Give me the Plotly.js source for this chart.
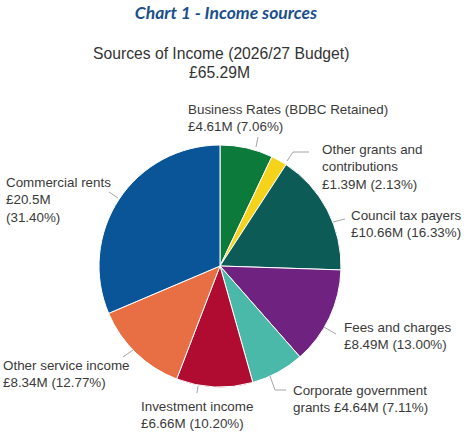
<!DOCTYPE html>
<html>
<head>
<meta charset="utf-8">
<script src="https://cdn.plot.ly/plotly-3.0.1.min.js"></script>
<style>html,body{margin:0;padding:0;background:#fff;}#chart{width:470px;height:436px;}</style>
</head>
<body>
<div id="chart"></div>
<script>
// ---- data ----
var categories = ['Business Rates (BDBC Retained)', 'Other grants and contributions', 'Council tax payers', 'Fees and charges', 'Corporate government grants', 'Investment income', 'Other service income', 'Commercial rents'];
var valuesM = [4.61, 1.39, 10.66, 8.49, 4.64, 6.66, 8.34, 20.5];
var valueText = ['4.61', '1.39', '10.66', '8.49', '4.64', '6.66', '8.34', '20.5'];
var percents = ['7.06', '2.13', '16.33', '13.00', '7.11', '10.20', '12.77', '31.40'];
var totalText = '£65.29M';
var chartTitle = 'Chart 1 - Income sources';
var subTitle = 'Sources of Income (2026/27 Budget)';

// ---- styles / layout helpers ----
var colors = ['#0b7a3b', '#f5d31a', '#0d5b57', '#6f2280', '#4bb9a9', '#b00b31', '#e86f44', '#0a5597'];
// label templates: {n}=name, {v}=value, {p}=percent
var templates = [
  '{n}<br>£{v}M ({p}%)',
  'Other grants and<br>contributions<br>£{v}M ({p}%)',
  '{n}<br>£{v}M ({p}%)',
  '{n}<br>£{v}M ({p}%)',
  'Corporate government<br>grants £{v}M ({p}%)',
  '{n}<br>£{v}M ({p}%)',
  '{n}<br>£{v}M ({p}%)',
  '{n}<br>£{v}M<br>({p}%)'
];
var labelPos = [[186,118],[320,167],[349,224],[342,336],[291,399],[139,415],[1,374],[4,200]];
var leaders = [
  [[256,147],[258,137]],
  [[287,161],[293,152],[309,152]],
  [[333,222],[345,219]],
  [[324,327],[336,334]],
  [[270,376],[275,390],[286,390]],
  [[198,386],[197,393]],
  [[133,350],[123,357]],
  [[118,198],[109,192]]
];
var W = 470, H = 436;
function px(x){return x/W;}
function py(y){return 1 - y/H;}

var annotations = [];
for (var i = 0; i < categories.length; i++) {
  var t = templates[i].replace('{n}', categories[i]).replace('{v}', valueText[i]).replace('{p}', percents[i]);
  annotations.push({
    text: t, xref: 'paper', yref: 'paper', x: px(labelPos[i][0]), y: py(labelPos[i][1]),
    xanchor: 'left', yanchor: 'middle', align: 'left', showarrow: false,
    font: {family: '"Liberation Sans", Arial, sans-serif', size: 13.4, color: '#3a3a3a'}
  });
}
annotations.push({
  text: subTitle, xref: 'paper', yref: 'paper', x: px(220.5), y: py(53),
  xanchor: 'center', yanchor: 'middle', showarrow: false,
  font: {family: '"Liberation Sans", Arial, sans-serif', size: 15.7, color: '#333333'}
});
annotations.push({
  text: totalText, xref: 'paper', yref: 'paper', x: px(219), y: py(72),
  xanchor: 'center', yanchor: 'middle', showarrow: false,
  font: {family: '"Liberation Sans", Arial, sans-serif', size: 15.7, color: '#333333'}
});

var shapes = leaders.map(function(pts){
  var d = pts.map(function(p, k){ return (k ? 'L' : 'M') + px(p[0]) + ',' + py(p[1]); }).join(' ');
  return {type: 'path', xref: 'paper', yref: 'paper', path: d, line: {color: '#a6a6a6', width: 1}};
});

var trace = {
  type: 'pie',
  labels: categories,
  values: valuesM,
  sort: false,
  direction: 'clockwise',
  rotation: 0,
  textinfo: 'none',
  hoverinfo: 'label+value+percent',
  marker: {colors: colors, line: {color: '#ffffff', width: 1}},
  domain: {x: [px(99), px(341)], y: [py(387), py(145)]},
  showlegend: false
};

var layout = {
  width: W, height: H,
  margin: {l: 0, r: 0, t: 0, b: 0},
  paper_bgcolor: '#ffffff',
  title: {
    text: '<b><i>' + chartTitle + '</i></b>',
    x: px(226), y: py(13), xanchor: 'center', yanchor: 'middle', xref: 'paper', yref: 'paper',
    font: {family: 'Lato, "Open Sans", sans-serif', size: 17.5, color: '#1b4f8b'}
  },
  annotations: annotations,
  shapes: shapes
};

Plotly.newPlot('chart', [trace], layout, {displayModeBar: false, staticPlot: true});
</script>
</body>
</html>
